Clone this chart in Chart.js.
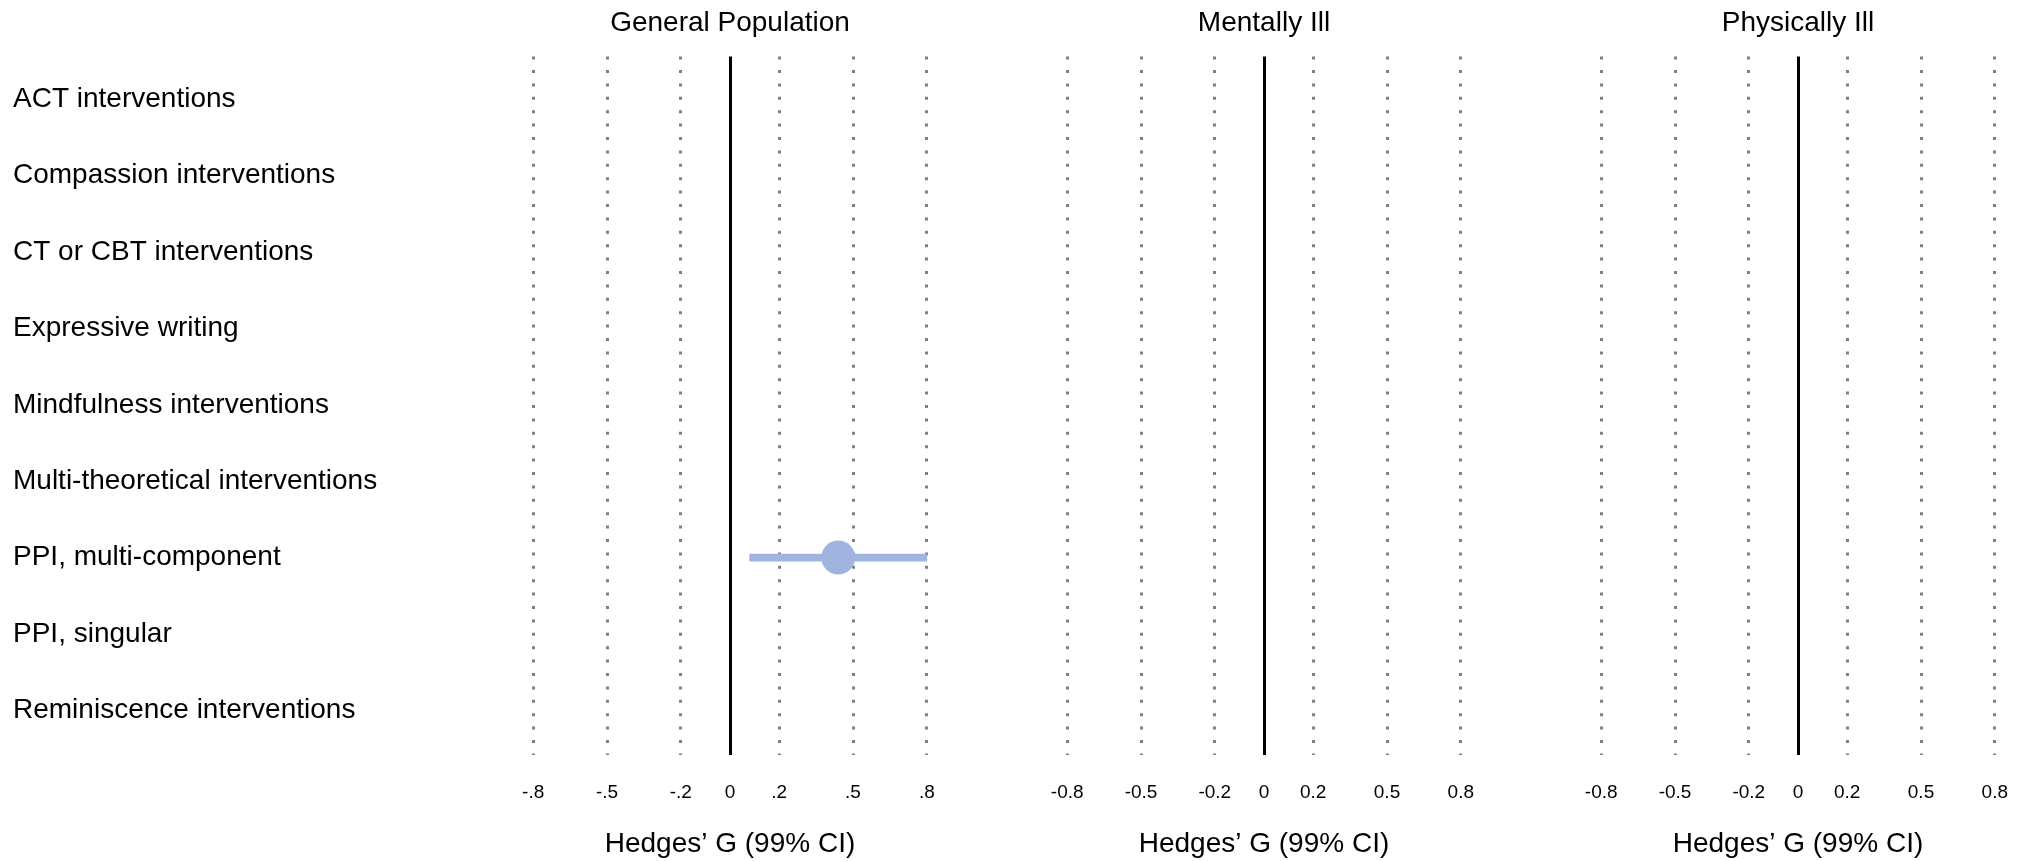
<!DOCTYPE html>
<html>
<head>
<meta charset="utf-8">
<title>Hedges' G by intervention and population</title>
<script src="https://cdn.jsdelivr.net/npm/chart.js@4"></script>
<style>
  html, body { margin: 0; padding: 0; background: #fff; }
  #wrap { position: relative; width: 2026px; height: 861px; }
  canvas { position: absolute; top: 0; }
</style>
</head>
<body>
<div id="wrap">
  <canvas id="panelGeneral" width="1000" height="861" style="left:0px"></canvas>
  <canvas id="panelMental" width="534" height="861" style="left:1000px"></canvas>
  <canvas id="panelPhysical" width="492" height="861" style="left:1534px"></canvas>
</div>
<script>
const interventions = [
    "ACT interventions",
    "Compassion interventions",
    "CT or CBT interventions",
    "Expressive writing",
    "Mindfulness interventions",
    "Multi-theoretical interventions",
    "PPI, multi-component",
    "PPI, singular",
    "Reminiscence interventions"
];
const panelTitles = ["General Population", "Mentally Ill", "Physically Ill"];
const tickValues = [-0.8, -0.5, -0.2, 0, 0.2, 0.5, 0.8];
const tickLabelsShort = ["-.8", "-.5", "-.2", "0", ".2", ".5", ".8"];
const tickLabelsLong = ["-0.8", "-0.5", "-0.2", "0", "0.2", "0.5", "0.8"];

// Hedges' G and 99% CI per intervention (null = no estimate)
const generalG    = [null, null, null, null, null, null, 0.44, null, null];
const generalLow  = [null, null, null, null, null, null, 0.08, null, null];
const generalHigh = [null, null, null, null, null, null, 0.80, null, null];
const mentalG     = [null, null, null, null, null, null, null, null, null];
const mentalLow   = [null, null, null, null, null, null, null, null, null];
const mentalHigh  = [null, null, null, null, null, null, null, null, null];
const physicalG    = [null, null, null, null, null, null, null, null, null];
const physicalLow  = [null, null, null, null, null, null, null, null, null];
const physicalHigh = [null, null, null, null, null, null, null, null, null];

const markColor = "#a1b4df";
Chart.defaults.font.family = "'Liberation Sans', Arial, sans-serif";

function drawPanel(canvasId, title, est, low, high, tickLabels, showRows, padLeft, padRight) {
    let points = [];
    let intervals = [];
    interventions.forEach((name, i) => {
        if (est[i] === null) return;
        points.push({ x: est[i], y: i });
        intervals.push({ y: i, x: [low[i], high[i]] });
    });

    return new Chart(document.getElementById(canvasId), {
        type: "scatter",
        data: {
            datasets: [
                {
                    type: "scatter",
                    data: points,
                    pointRadius: 17,
                    pointHoverRadius: 17,
                    backgroundColor: markColor,
                    borderWidth: 0
                },
                {
                    type: "bar",
                    indexAxis: "y",
                    data: intervals,
                    backgroundColor: markColor,
                    barThickness: 7,
                    borderWidth: 0,
                    borderSkipped: false
                }
            ]
        },
        options: {
            responsive: false,
            animation: false,
            layout: { padding: { left: padLeft, right: padRight, top: 0, bottom: 0 } },
            plugins: {
                legend: { display: false },
                tooltip: { enabled: false },
                title: {
                    display: true,
                    text: title,
                    fullSize: false,
                    color: "#000",
                    font: { size: 28, weight: "normal" },
                    padding: { top: 6, bottom: 17 }
                }
            },
            scales: {
                x: {
                    type: "linear",
                    min: -0.9,
                    max: 0.9,
                    z: 1,
                    afterBuildTicks: s => { s.ticks = tickValues.map(v => ({ value: v })); },
                    ticks: {
                        autoSkip: false,
                        maxRotation: 0,
                        padding: 0,
                        color: "#000",
                        font: { size: 19 },
                        callback: (v, i) => tickLabels[i]
                    },
                    grid: {
                        drawTicks: true,
                        tickLength: 27,
                        tickColor: "rgba(0,0,0,0)",
                        color: c => (c.tick && c.tick.value === 0) ? "#000" : "#808080",
                        lineWidth: 3
                    },
                    border: {
                        display: false,
                        dash: c => (c.tick && c.tick.value === 0) ? [] : [3, 10.4]
                    },
                    title: {
                        display: true,
                        text: "Hedges’ G (99% CI)",
                        color: "#000",
                        font: { size: 28 },
                        padding: { top: 23, bottom: 0 }
                    }
                },
                y: {
                    type: "linear",
                    reverse: true,
                    min: -0.56,
                    max: 8.58,
                    offset: false,
                    display: showRows,
                    afterBuildTicks: s => { s.ticks = interventions.map((n, i) => ({ value: i })); },
                    afterFit: s => { if (showRows) s.width = 495.6; },
                    ticks: {
                        crossAlign: "far",
                        color: "#000",
                        font: { size: 28 },
                        callback: v => interventions[v]
                    },
                    grid: { display: false, offset: false },
                    border: { display: false }
                }
            }
        }
    });
}

drawPanel("panelGeneral", panelTitles[0], generalG, generalLow, generalHigh, tickLabelsShort, true, 13, 48.6);
drawPanel("panelMental", panelTitles[1], mentalG, mentalLow, mentalHigh, tickLabelsLong, false, 42.6, 48.6);
drawPanel("panelPhysical", panelTitles[2], physicalG, physicalLow, physicalHigh, tickLabelsLong, false, 42.6, 6.6);
</script>
</body>
</html>
